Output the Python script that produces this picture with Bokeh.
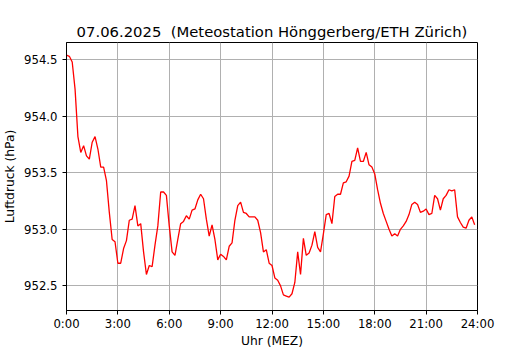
from bokeh.plotting import figure
from bokeh.models import FixedTicker, Range1d, NumeralTickFormatter
from bokeh.embed import file_html
from bokeh.resources import INLINE

title_text = "07.06.2025\u00a0 (Meteostation Hönggerberg/ETH Zürich)"
x_label = "Uhr (MEZ)"
y_label = "Luftdruck (hPa)"

# 10-minute readings, 0:00 .. 23:50
pressure = [
    954.54, 954.53, 954.48, 954.24, 953.82, 953.68, 953.74, 953.65, 953.62, 953.77,
    953.82, 953.71, 953.55, 953.55, 953.43, 953.15, 952.91, 952.89, 952.70, 952.70,
    952.83, 952.90, 953.08, 953.09, 953.21, 953.03, 953.05, 952.80, 952.60, 952.68,
    952.67, 952.86, 953.03, 953.33, 953.33, 953.30, 953.03, 952.80, 952.77, 952.91,
    953.05, 953.07, 953.12, 953.09, 953.17, 953.18, 953.26, 953.31, 953.27, 953.09,
    952.94, 953.04, 952.91, 952.73, 952.78, 952.76, 952.73, 952.85, 952.88, 953.08,
    953.21, 953.24, 953.15, 953.14, 953.11, 953.11, 953.11, 953.08, 952.97, 952.80,
    952.82, 952.70, 952.68, 952.57, 952.55, 952.50, 952.42, 952.41, 952.40, 952.43,
    952.53, 952.80, 952.60, 952.92, 952.77, 952.79, 952.86, 952.98, 952.84, 952.80,
    952.96, 953.13, 953.14, 953.05, 953.29, 953.31, 953.31, 953.41, 953.42, 953.47,
    953.60, 953.61, 953.72, 953.60, 953.60, 953.68, 953.57, 953.55, 953.49, 953.35,
    953.23, 953.14, 953.07, 953.00, 952.94, 952.96, 952.94, 953.00, 953.03, 953.07,
    953.13, 953.22, 953.24, 953.22, 953.15, 953.16, 953.18, 953.13, 953.14, 953.30,
    953.27, 953.17, 953.27, 953.30, 953.35, 953.34, 953.35, 953.11, 953.06, 953.02,
    953.01, 953.08, 953.11, 953.04,
]
hours = [i * 10 / 60 for i in range(len(pressure))]

x_ticks = [0, 3, 6, 9, 12, 15, 18, 21, 24]
x_tick_labels = ["0:00", "3:00", "6:00", "9:00", "12:00", "15:00", "18:00", "21:00", "24:00"]
y_ticks = [952.5, 953.0, 953.5, 954.0, 954.5]

FONT = "DejaVu Sans"

p = figure(
    width=530, height=350,
    output_backend="svg", toolbar_location=None,
    x_range=Range1d(0, 24), y_range=Range1d(952.282, 954.652),
    min_border_left=66, min_border_right=53, min_border_top=42, min_border_bottom=38,
    title=title_text,
)

p.line(hours, pressure, line_color="#ff0000", line_width=1.3)

p.title.align = "center"
p.title.text_font = FONT
p.title.text_font_size = "14.8px"
p.title.text_font_style = "normal"
p.title.text_color = "black"
p.title.standoff = 5

p.outline_line_color = "black"
p.outline_line_width = 1
p.outline_line_alpha = 1
p.background_fill_color = "white"
p.border_fill_color = "white"

for ax in (p.xaxis[0], p.yaxis[0]):
    ax.major_label_text_font = FONT
    ax.major_label_text_font_size = "11.7px"
    ax.major_label_text_color = "black"
    ax.axis_label_text_font = FONT
    ax.axis_label_text_font_size = "12.3px"
    ax.axis_label_text_font_style = "normal"
    ax.axis_label_text_color = "black"
    ax.axis_line_color = "black"
    ax.major_tick_line_color = "black"
    ax.major_tick_in = 0
    ax.major_tick_out = 4
    ax.minor_tick_line_color = None

p.xaxis.major_label_standoff = 2
p.xaxis.axis_label_standoff = 0
p.yaxis.major_label_standoff = 5
p.yaxis.axis_label_standoff = 4

p.xaxis.ticker = FixedTicker(ticks=x_ticks)
p.xaxis.major_label_overrides = {t: l for t, l in zip(x_ticks, x_tick_labels)}
p.xaxis.axis_label = x_label

p.yaxis.ticker = FixedTicker(ticks=y_ticks)
p.yaxis.formatter = NumeralTickFormatter(format="0.0")
p.yaxis.axis_label = y_label

p.grid.grid_line_color = "#b0b0b0"
p.grid.grid_line_width = 1
p.xgrid.ticker = FixedTicker(ticks=x_ticks)
p.ygrid.ticker = FixedTicker(ticks=y_ticks)

open("out.html", "w").write(file_html(p, INLINE))
